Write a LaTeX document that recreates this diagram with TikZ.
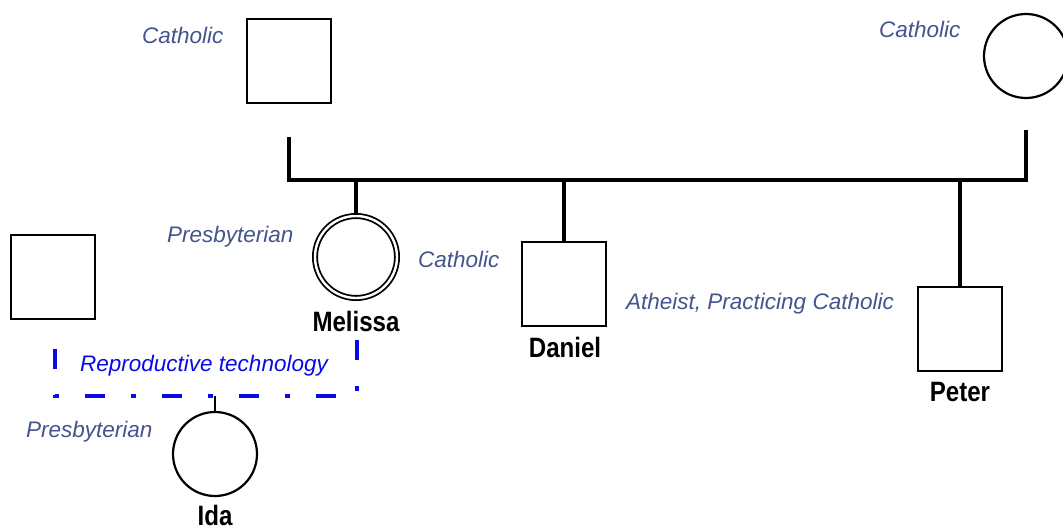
\documentclass[tikz,border=0pt]{standalone}
\usepackage{fontspec}
\setmainfont{Liberation Sans}
\newfontfamily\namefont[FakeStretch=0.86]{Liberation Sans}
\definecolor{labelblue}{RGB}{68,84,140}
\definecolor{techblue}{RGB}{10,10,230}
\begin{document}
\begin{tikzpicture}[x=1pt,y=-1pt,
  male/.style={draw=black,line width=2.6pt,rectangle,minimum size=84pt,inner sep=0pt},
  female/.style={draw=black,line width=2.2pt,circle,minimum size=84pt,inner sep=0pt},
  proband/.style={draw=black,circle,line width=1.8pt,double=white,double distance=2.4pt,minimum size=82pt,inner sep=0pt},
  sibbar/.style={line width=4.2pt,line cap=butt,line join=miter},
  stem/.style={line width=3.2pt},
  faith/.style={anchor=base west,inner sep=0pt,text=labelblue,font=\itshape\fontsize{22.5}{26}\selectfont},
  techlabel/.style={anchor=base west,inner sep=0pt,text=techblue,font=\itshape\fontsize{22.5}{26}\selectfont},
  personname/.style={anchor=base,inner sep=0pt,font=\namefont\bfseries\fontsize{28}{32}\selectfont},
  artlink/.style={draw=techblue,line width=4.8pt,dash pattern=on 20pt off 26pt on 5pt off 26pt}
]
\useasboundingbox (0,0) rectangle (1063,530);

% grandparents
\node[male] (gf) at (289,61) {};
\node[female] (gm) at (1026,56) {};
\node[faith] (gfrel) at (142,43) {Catholic};
\node[faith] (gmrel) at (879,37) {Catholic};

% sibship line
\coordinate (lt) at (289,137);
\coordinate (lb) at (289,180);
\coordinate (rb) at (1026,180);
\coordinate (rt) at (1026,130);
\draw[sibbar] (lt) -- (lb) -- (rb) -- (rt);

% children
\node[proband] (melissa) at (356,257) {};
\node[male] (daniel) at (564,284) {};
\node[male] (peter) at (960,329) {};
\draw[stem] (melissa.north |- lb) -- (melissa.north);
\draw[stem] (daniel.north |- lb) -- (daniel.north);
\draw[stem] (peter.north |- lb) -- (peter.north);

\node[personname] (melname) at (356,331) {Melissa};
\node[personname] (danname) at (565,357) {Daniel};
\node[personname] (petname) at (960,401) {Peter};

\node[faith] (melrel1) at (167,242) {Presbyterian};
\node[faith] (melrel2) at (418,267) {Catholic};
\node[faith] (danrel) at (626,309) {Atheist, Practicing Catholic};

% partner
\node[male] (partner) at (53,277) {};

% offspring through reproductive technology
\node[female] (ida) at (215,454) {};
\coordinate (ra) at (55,349);
\coordinate (rc) at (55,396);
\coordinate (rd) at (357,396);
\coordinate (re) at (357,334);
\draw[line width=2.8pt] (ida.north |- rd) -- (ida.north);
\draw[artlink] (ra) -- (rc) -- (rd) -- (re);
\node[techlabel] (arttext) at (80,371) {Reproductive technology};
\node[faith] (idarel) at (26,437) {Presbyterian};
\node[personname] (idaname) at (215,525) {Ida};
\end{tikzpicture}
\end{document}
